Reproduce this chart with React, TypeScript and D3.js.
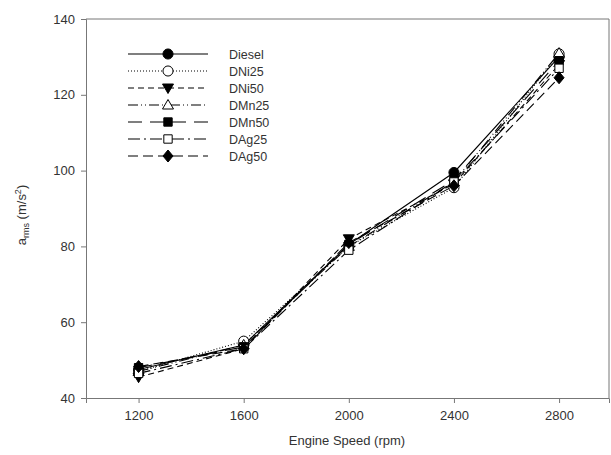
import { useRef, useEffect } from "react";
import * as d3 from "d3";

const speeds = [1200, 1600, 2000, 2400, 2800];
const xTicks = [1200, 1600, 2000, 2400, 2800];
const yTicks = [40, 60, 80, 100, 120, 140];

const diesel = [47.5, 54, 80.5, 99.5, 130];
const dni25 = [47, 55, 80, 95.5, 130.8];
const dni50 = [45.5, 53, 82, 96.5, 128];
const dmn25 = [47, 54, 80, 97, 131];
const dmn50 = [48, 53.5, 80.5, 97.5, 129];
const dag25 = [46.5, 53, 79, 97, 127];
const dag50 = [48.3, 53, 81, 96, 124.5];

const series = [
  { name: "Diesel", values: diesel, dash: null, symbol: "circle", filled: true },
  { name: "DNi25", values: dni25, dash: "1,2", symbol: "circle", filled: false },
  { name: "DNi50", values: dni50, dash: "6,4", symbol: "triDown", filled: true },
  { name: "DMn25", values: dmn25, dash: "10,3,1,3,1,3", symbol: "triUp", filled: false },
  { name: "DMn50", values: dmn50, dash: "14,8", symbol: "square", filled: true },
  { name: "DAg25", values: dag25, dash: "12,4,2,4", symbol: "square", filled: false },
  { name: "DAg50", values: dag50, dash: "10,5", symbol: "diamond", filled: true },
];

function symbolPath(kind: string) {
  if (kind === "circle") return d3.symbol(d3.symbolCircle, 80)();
  if (kind === "square") return d3.symbol(d3.symbolSquare, 70)();
  if (kind === "diamond") return "M0,-6L5,0L0,6L-5,0Z";
  if (kind === "triUp") return "M0,-5.5L5.5,4L-5.5,4Z";
  return "M0,5.5L5.5,-4L-5.5,-4Z";
}

export default function App() {
  const svgRef = useRef<SVGSVGElement>(null);

  useEffect(() => {
    const W = 611;
    const H = 455;
    const svg = d3.select(svgRef.current);
    svg.selectAll("*").remove();

    const x = d3.scaleLinear().domain([1000, 2990]).range([86, 609]);
    const y = d3.scaleLinear().domain([40, 140]).range([398, 19]);
    const axisColor = "#777";
    const textColor = "#333";
    const font = "Liberation Sans, Arial, sans-serif";

    // frame top/right
    svg.append("line").attr("x1", 86).attr("x2", 609).attr("y1", 19).attr("y2", 19)
      .attr("stroke", axisColor);
    svg.append("line").attr("x1", 609).attr("x2", 609).attr("y1", 19).attr("y2", 398)
      .attr("stroke", axisColor);

    // x axis
    const xAxisG = svg.append("g").attr("transform", "translate(0,398)")
      .call(d3.axisBottom(x).tickValues(xTicks).tickFormat(d3.format("d"))
        .tickSizeOuter(0).tickSize(5).tickPadding(8));
    xAxisG.select(".domain").attr("stroke", axisColor);
    xAxisG.selectAll(".tick line").attr("stroke", axisColor);
    xAxisG.selectAll("text").attr("fill", textColor).attr("font-size", "13px").attr("font-family", font);

    // y axis
    const yAxisG = svg.append("g").attr("transform", "translate(86,0)")
      .call(d3.axisLeft(y).tickValues(yTicks).tickFormat(d3.format("d"))
        .tickSizeOuter(0).tickSize(5).tickPadding(6));
    yAxisG.select(".domain").attr("stroke", axisColor);
    yAxisG.selectAll(".tick line").attr("stroke", axisColor);
    yAxisG.selectAll("text").attr("fill", textColor).attr("font-size", "13px").attr("font-family", font);

    // lines
    const line = d3.line<number>().x((_, i) => x(speeds[i])).y((d) => y(d));
    series.forEach((s) => {
      const p = svg.append("path").datum(s.values).attr("d", line)
        .attr("fill", "none").attr("stroke", "#000").attr("stroke-width", 1.1);
      if (s.dash) p.attr("stroke-dasharray", s.dash);
    });
    series.forEach((s) => {
      svg.append("g").selectAll("path").data(s.values).join("path")
        .attr("transform", (d, i) => `translate(${x(speeds[i])},${y(d)})`)
        .attr("d", symbolPath(s.symbol))
        .attr("fill", s.filled ? "#000" : "#fff")
        .attr("stroke", "#000").attr("stroke-width", 1);
    });

    // legend
    const lg = svg.append("g").attr("transform", "translate(128,54)");
    series.forEach((s, i) => {
      const row = lg.append("g").attr("transform", `translate(0,${i * 17})`);
      const l = row.append("line").attr("x1", 0).attr("x2", 80).attr("y1", 0).attr("y2", 0)
        .attr("stroke", "#000").attr("stroke-width", 1.1);
      if (s.dash) l.attr("stroke-dasharray", s.dash);
      row.append("path").attr("transform", "translate(40,0)").attr("d", symbolPath(s.symbol))
        .attr("fill", s.filled ? "#000" : "#fff").attr("stroke", "#000");
      row.append("text").attr("x", 101).attr("y", 4.5).attr("fill", textColor)
        .attr("font-size", "12.5px").attr("font-family", font).text(s.name);
    });

    // axis titles
    svg.append("text").attr("x", 347).attr("y", 445).attr("text-anchor", "middle")
      .attr("fill", textColor).attr("font-size", "13px").attr("font-family", font)
      .text("Engine Speed (rpm)");

    const yt = svg.append("text").attr("transform", "translate(26,215) rotate(-90)")
      .attr("text-anchor", "middle").attr("fill", textColor)
      .attr("font-size", "13px").attr("font-family", font);
    yt.append("tspan").text("a");
    yt.append("tspan").attr("font-size", "9px").attr("dy", 3).text("rms");
    yt.append("tspan").attr("dy", -3).text(" (m/s");
    yt.append("tspan").attr("font-size", "9px").attr("dy", -5).text("2");
    yt.append("tspan").attr("dy", 5).text(")");

    svg.attr("width", W).attr("height", H);
  }, []);

  return (
    <div style={{ position: "absolute", left: 0, top: 0, background: "#fff" }}>
      <svg ref={svgRef} width={611} height={455} style={{ display: "block" }}></svg>
    </div>
  );
}
